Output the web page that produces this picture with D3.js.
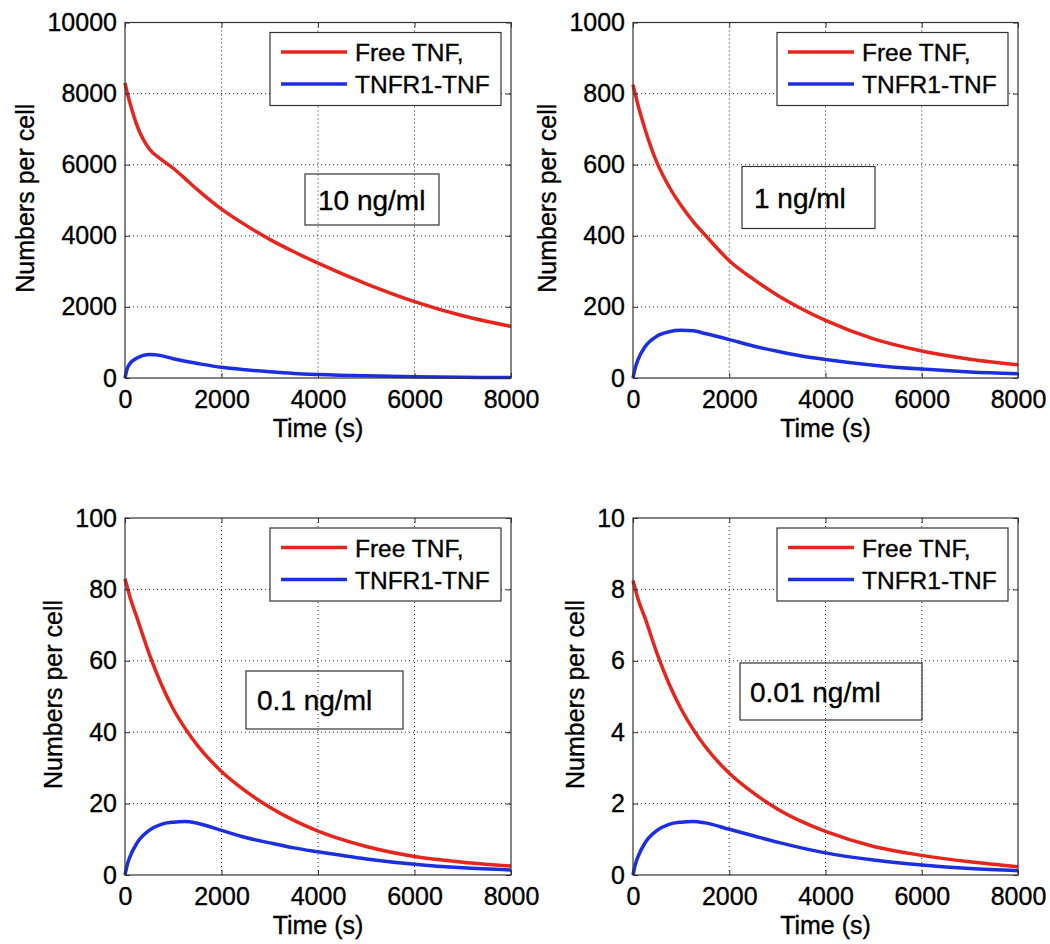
<!DOCTYPE html>
<html lang="en">
<head>
    <meta charset="utf-8">
    <title>Free TNF and TNFR1-TNF per cell</title>
    <script type="text/javascript" src="https://d3js.org/d3.v7.min.js"></script>
    <style type="text/css">
        body { margin: 0; background: #fff; }
        svg { font-family: "Liberation Sans", Arial, sans-serif; }
        text { fill: #000; stroke: #000; stroke-width: 0.35px; }
    </style>
</head>
<body>
<script type="text/javascript">

    // sample times (s), shared by every curve
    var times = [0, 50, 100, 250, 500, 750, 1000, 1250, 1500, 2000, 2500, 3000, 3500, 4000, 5000, 6000, 7000, 8000];

    var freeTnf10 = [8300, 8000, 7750, 7100, 6450, 6150, 5900, 5600, 5300, 4750, 4300, 3900, 3550, 3230, 2650, 2150, 1750, 1450];
    var complex10 = [0, 280, 400, 560, 660, 630, 540, 470, 410, 300, 230, 175, 130, 100, 60, 35, 20, 12];

    var freeTnf1 = [825, 797, 770, 700, 605, 538, 485, 440, 402, 330, 278, 233, 195, 162, 110, 76, 53, 37];
    var complex1 = [0, 30, 50, 88, 118, 130, 134, 133, 125, 108, 90, 75, 62, 52, 36, 25, 17, 12];

    var freeTnf01 = [83, 80.5, 78, 72, 62, 53.5, 46.5, 41, 36.3, 29, 23.5, 19, 15.3, 12.3, 8, 5.2, 3.6, 2.5];
    var complex01 = [0, 3, 5, 9, 12.5, 14.2, 14.8, 15, 14.5, 12.5, 10.5, 9, 7.6, 6.5, 4.5, 3, 2, 1.4];

    var freeTnf001 = [8.25, 8.0, 7.75, 7.2, 6.2, 5.35, 4.65, 4.08, 3.6, 2.85, 2.3, 1.85, 1.5, 1.22, 0.8, 0.55, 0.37, 0.23];
    var complex001 = [0, 0.3, 0.5, 0.9, 1.25, 1.42, 1.48, 1.5, 1.46, 1.28, 1.1, 0.92, 0.76, 0.62, 0.42, 0.28, 0.18, 0.12];

    var xTicks = [0, 2000, 4000, 6000, 8000];
    var yTicks10 = [0, 2000, 4000, 6000, 8000, 10000];
    var yTicks1 = [0, 200, 400, 600, 800, 1000];
    var yTicks01 = [0, 20, 40, 60, 80, 100];
    var yTicks001 = [0, 2, 4, 6, 8, 10];

    var doseLabels = ["10 ng/ml", "1 ng/ml", "0.1 ng/ml", "0.01 ng/ml"];
    var seriesNames = ["Free TNF,", "TNFR1-TNF"];

    var red = "#e6251c", blue = "#1c2fe0";

    var panels = [
        {free: freeTnf10, cplx: complex10, yt: yTicks10, label: doseLabels[0],
         box: [125, 22.5, 511, 378], note: [180, 151.5, 134, 51, 13]},
        {free: freeTnf1, cplx: complex1, yt: yTicks1, label: doseLabels[1],
         box: [633, 22.5, 1018, 378], note: [109, 144, 133, 62, 12]},
        {free: freeTnf01, cplx: complex01, yt: yTicks01, label: doseLabels[2],
         box: [125, 518, 511, 875], note: [121, 153, 157, 58, 11]},
        {free: freeTnf001, cplx: complex001, yt: yTicks001, label: doseLabels[3],
         box: [633, 518, 1018, 875], note: [107, 145, 182, 57, 10]}
    ];

    var svg = d3.select("body").append("svg")
        .attr("width", 1050)
        .attr("height", 944);

    var fs = 25;

    panels.forEach(function(p) {
        var x0 = p.box[0], y0 = p.box[1], x1 = p.box[2], y1 = p.box[3];
        var yMax = p.yt[p.yt.length - 1];

        var x = d3.scaleLinear().domain([0, 8000]).range([x0, x1]);
        var y = d3.scaleLinear().domain([0, yMax]).range([y1, y0]);

        var g = svg.append("g");

        // dotted grid
        g.selectAll(".gx").data(xTicks.slice(1, -1)).enter().append("line")
            .attr("x1", function(d) { return x(d); }).attr("x2", function(d) { return x(d); })
            .attr("y1", y0).attr("y2", y1)
            .attr("stroke", "#222").attr("stroke-width", 1).attr("stroke-dasharray", "1,3");
        g.selectAll(".gy").data(p.yt.slice(1, -1)).enter().append("line")
            .attr("y1", function(d) { return y(d); }).attr("y2", function(d) { return y(d); })
            .attr("x1", x0).attr("x2", x1)
            .attr("stroke", "#222").attr("stroke-width", 1).attr("stroke-dasharray", "1,3");

        // curves
        var line = d3.line()
            .x(function(d, i) { return x(times[i]); })
            .y(function(d) { return y(d); })
            .curve(d3.curveMonotoneX);

        g.append("path").datum(p.free).attr("d", line)
            .attr("fill", "none").attr("stroke", red).attr("stroke-width", 3.5);
        g.append("path").datum(p.cplx).attr("d", line)
            .attr("fill", "none").attr("stroke", blue).attr("stroke-width", 3.5);

        // axes with inward ticks
        g.append("g").attr("transform", "translate(0," + y1 + ")")
            .call(d3.axisBottom(x).tickValues(xTicks).tickSize(-5).tickPadding(12).tickFormat(d3.format("d")));
        var left = g.append("g").attr("transform", "translate(" + x0 + ",0)")
            .call(d3.axisLeft(y).tickValues(p.yt).tickSize(-5).tickPadding(8).tickFormat(d3.format("d")));
        g.append("g").attr("transform", "translate(0," + y0 + ")")
            .call(d3.axisTop(x).tickValues(xTicks).tickSize(-5).tickFormat(""));
        g.append("g").attr("transform", "translate(" + x1 + ",0)")
            .call(d3.axisRight(y).tickValues(p.yt).tickSize(-5).tickFormat(""));

        g.selectAll(".domain").remove();
        g.selectAll(".tick line").attr("stroke", "#333");
        g.selectAll(".tick text")
            .attr("font-family", "Liberation Sans, Arial, sans-serif")
            .attr("font-size", fs);

        g.append("rect")
            .attr("x", x0).attr("y", y0).attr("width", x1 - x0).attr("height", y1 - y0)
            .attr("fill", "none").attr("stroke", "#333").attr("stroke-width", 1.2);

        // axis labels (ylabel sits left of the widest tick label)
        var tickLeft = x0 + left.node().getBBox().x;
        g.append("text")
            .attr("transform", "translate(" + (tickLeft - 13) + "," + ((y0 + y1) / 2 - 2) + ") rotate(-90)")
            .attr("text-anchor", "middle")
            .attr("font-size", fs)
            .text("Numbers per cell");

        g.append("text")
            .attr("x", (x0 + x1) / 2).attr("y", y1 + 58.5)
            .attr("text-anchor", "middle")
            .attr("font-size", fs)
            .text("Time (s)");

        // legend
        var lw = 231, lh = 73;
        var lx = x1 - 10 - lw, ly = y0 + 10;
        var leg = g.append("g").attr("transform", "translate(" + lx + "," + ly + ")");
        leg.append("rect").attr("width", lw).attr("height", lh)
            .attr("fill", "#fff").attr("stroke", "#333").attr("stroke-width", 1.2);
        [red, blue].forEach(function(c, i) {
            var ry = 19.5 + i * 32;
            leg.append("line").attr("x1", 11).attr("x2", 77).attr("y1", ry).attr("y2", ry)
                .attr("stroke", c).attr("stroke-width", 3.5);
            leg.append("text").attr("x", 85).attr("y", ry + 9)
                .attr("font-size", fs - 0.5)
                .text(seriesNames[i]);
        });

        // concentration note
        var n = p.note;
        g.append("rect")
            .attr("x", x0 + n[0]).attr("y", y0 + n[1]).attr("width", n[2]).attr("height", n[3])
            .attr("fill", "none").attr("stroke", "#333").attr("stroke-width", 1.2);
        g.append("text")
            .attr("x", x0 + n[0] + n[4]).attr("y", y0 + n[1] + n[3] / 2 + 10)
            .attr("font-size", 28)
            .text(p.label);
    });

</script>
</body>
</html>
